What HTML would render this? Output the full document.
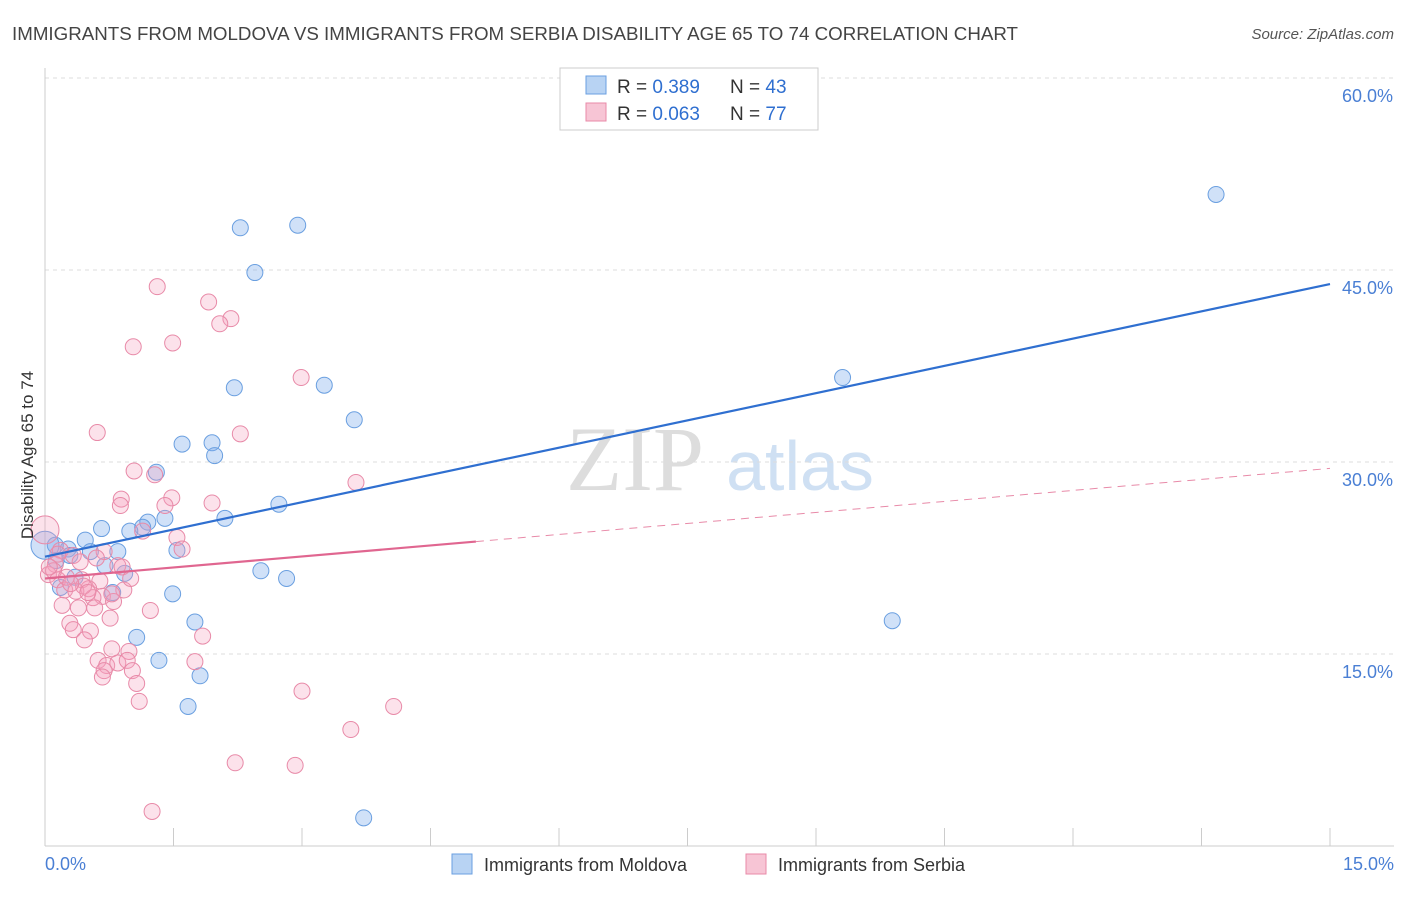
<!DOCTYPE html>
<html><head><meta charset="utf-8"><style>
body{margin:0;background:#fff;font-family:"Liberation Sans",sans-serif;}
svg text{font-family:"Liberation Sans",sans-serif;}
</style></head><body>
<svg id="chart" width="1406" height="892" viewBox="0 0 1406 892" xmlns="http://www.w3.org/2000/svg">
<text x="12" y="40" font-size="18" fill="#444" textLength="1006" lengthAdjust="spacingAndGlyphs">IMMIGRANTS FROM MOLDOVA VS IMMIGRANTS FROM SERBIA DISABILITY AGE 65 TO 74 CORRELATION CHART</text>
<text x="1394" y="39" font-size="15" fill="#555" font-style="italic" text-anchor="end">Source: ZipAtlas.com</text>
<g>
<text x="635" y="490" font-size="92" fill="#ddd" text-anchor="middle" font-family="Liberation Serif" style="font-family:'Liberation Serif',serif">ZIP</text>
<text x="800" y="490" font-size="70" fill="#cfe0f3" text-anchor="middle">atlas</text>
</g>
<g id="grid"></g>
<g id="axes"></g>
<g id="pts"></g>
<g id="lines"></g>
<text transform="translate(33,455) rotate(-90)" font-size="17" fill="#333" text-anchor="middle">Disability Age 65 to 74</text>
<text x="45" y="870" font-size="18" fill="#4a7fd4">0.0%</text>
<text x="1394" y="870" font-size="18" fill="#4a7fd4" text-anchor="end">15.0%</text>
<g>
<rect x="560" y="68" width="258" height="62" fill="#fff" stroke="#ccc"/>
<rect x="586" y="76" width="20" height="18" fill="#b8d3f3" stroke="#6a9fe0"/>
<rect x="586" y="103" width="20" height="18" fill="#f7c5d5" stroke="#e88aa8"/>
<text x="617" y="93" font-size="19" fill="#333">R = <tspan fill="#2f6fd0">0.389</tspan></text>
<text x="730" y="93" font-size="19" fill="#333">N = <tspan fill="#2f6fd0">43</tspan></text>
<text x="617" y="120" font-size="19" fill="#333">R = <tspan fill="#2f6fd0">0.063</tspan></text>
<text x="730" y="120" font-size="19" fill="#333">N = <tspan fill="#2f6fd0">77</tspan></text>
</g>
<g>
<rect x="452" y="854" width="20" height="20" fill="#b8d3f3" stroke="#6a9fe0"/>
<text x="484" y="871" font-size="18" fill="#333">Immigrants from Moldova</text>
<rect x="746" y="854" width="20" height="20" fill="#f7c5d5" stroke="#e88aa8"/>
<text x="778" y="871" font-size="18" fill="#333">Immigrants from Serbia</text>
</g>
</svg>
<script>
const yTicks=[15,30,45,60];
const yTickLabels=["15.0%","30.0%","45.0%","60.0%"];
const xTicks=[0,1.5,3,4.5,6,7.5,9,10.5,12,13.5,15];
const moldovaX=[13.67,2.95,2.28,2.45,9.31,3.26,2.21,3.61,1.60,1.95,1.98,1.30,2.73,2.10,1.40,1.20,1.14,0.99,0.66,0.47,1.54,0.85,0.53,0.27,0.12,0.13,0.70,0.93,0.35,0.18,2.52,2.82,1.49,0.79,1.75,1.07,9.89,1.33,1.81,1.67,3.72,0.0,0.29];
const moldovaY=[50.9,48.5,48.3,44.8,36.6,36.0,35.8,33.3,31.4,31.5,30.5,29.2,26.7,25.6,25.6,25.3,24.9,24.6,24.8,23.9,23.1,23.0,23.0,23.2,23.5,22.3,21.9,21.3,21.0,20.2,21.5,20.9,19.7,19.8,17.5,16.3,17.6,14.5,13.3,10.9,2.2,23.5,22.7];
const serbiaX=[1.31,1.91,2.17,2.04,1.49,1.03,2.99,0.61,2.28,3.63,1.04,1.28,1.48,0.89,1.40,0.88,1.95,1.14,1.54,0.0,0.18,0.33,0.69,0.41,0.12,0.85,0.90,0.04,0.15,0.43,0.64,0.51,0.23,0.36,0.92,0.67,0.56,0.80,0.20,1.23,0.39,0.58,0.76,0.29,0.33,0.53,1.84,0.46,0.78,0.98,0.62,0.72,0.85,0.96,1.75,0.69,1.02,0.67,1.07,1.10,3.00,4.07,3.57,2.22,2.92,1.25,0.78,0.10,0.25,0.45,0.60,1.60,0.30,0.05,0.50,1.00,0.15];
const serbiaY=[43.7,42.5,41.2,40.8,39.3,39.0,36.6,32.3,32.2,28.4,29.3,29.0,27.2,27.1,26.6,26.6,26.8,24.6,24.1,24.7,23.1,22.7,23.0,22.2,22.0,21.9,21.8,21.2,20.8,20.8,20.7,20.1,20.0,19.9,20.0,19.5,19.4,19.1,18.8,18.4,18.6,18.6,17.8,17.4,16.9,16.8,16.4,16.1,15.4,15.2,14.5,14.1,14.3,14.5,14.4,13.7,13.7,13.2,12.7,11.3,12.1,10.9,9.1,6.5,6.3,2.7,19.7,21.5,21.0,20.3,22.5,23.2,20.5,21.8,19.8,20.9,22.8];
const moldovaTrend=[22.6,43.9];
const serbiaTrend=[20.9,29.5];
const NS="http://www.w3.org/2000/svg";
const X=v=>45+v*(1285/15);
const Y=v=>846-v*12.8;
function mk(t,a,p){const e=document.createElementNS(NS,t);for(const k in a)e.setAttribute(k,a[k]);p.appendChild(e);return e;}
const grid=document.getElementById('grid'),axes=document.getElementById('axes'),pts=document.getElementById('pts'),lines=document.getElementById('lines');
yTicks.forEach((v,i)=>{
 const l=mk('line',{x1:45,x2:1394,y1:Y(v),y2:Y(v),stroke:'#ddd','stroke-dasharray':'4,4'},grid);
 
 
 const t=mk('text',{x:1393,y:Y(v)+24,'font-size':18,fill:'#4a7fd4','text-anchor':'end'},grid);
 t.textContent=yTickLabels[i];
 
 
});
const ya=mk('line',{x1:45,x2:45,y1:68,y2:846,stroke:'#ccc'},axes);


const xa=mk('line',{x1:45,x2:1394,y1:846,y2:846,stroke:'#ccc'},axes);


xTicks.forEach(v=>{
 const t=mk('line',{x1:X(v),x2:X(v),y1:828,y2:846,stroke:'#ccc'},axes);
 
 
});
moldovaX.forEach((v,i)=>{
 const big=(v===0);
 const c=mk('circle',{cx:X(v),cy:Y(moldovaY[i]),r:big?14:8,fill:'rgba(120,170,235,0.35)',stroke:'#6a9fe0','stroke-width':1},pts);
 
 
});
serbiaX.forEach((v,i)=>{
 const big=(v===0);
 const c=mk('circle',{cx:X(v),cy:Y(serbiaY[i]),r:big?14:8,fill:'rgba(245,160,190,0.3)',stroke:'#e88aa8','stroke-width':1},pts);
 
 
});
const bl=mk('line',{x1:X(0),y1:Y(moldovaTrend[0]),x2:X(15),y2:Y(moldovaTrend[1]),stroke:'#2f6fd0','stroke-width':2.2},lines);


const sMid=5.03, sMidV=serbiaTrend[0]+(serbiaTrend[1]-serbiaTrend[0])*sMid/15;
const pl=mk('line',{x1:X(0),y1:Y(serbiaTrend[0]),x2:X(sMid),y2:Y(sMidV),stroke:'#e06690','stroke-width':2.2},lines);


const pd=mk('line',{x1:X(sMid),y1:Y(sMidV),x2:X(15),y2:Y(serbiaTrend[1]),stroke:'#e88aa8','stroke-width':1,'stroke-dasharray':'8,6'},lines);


</script>
</body></html>
